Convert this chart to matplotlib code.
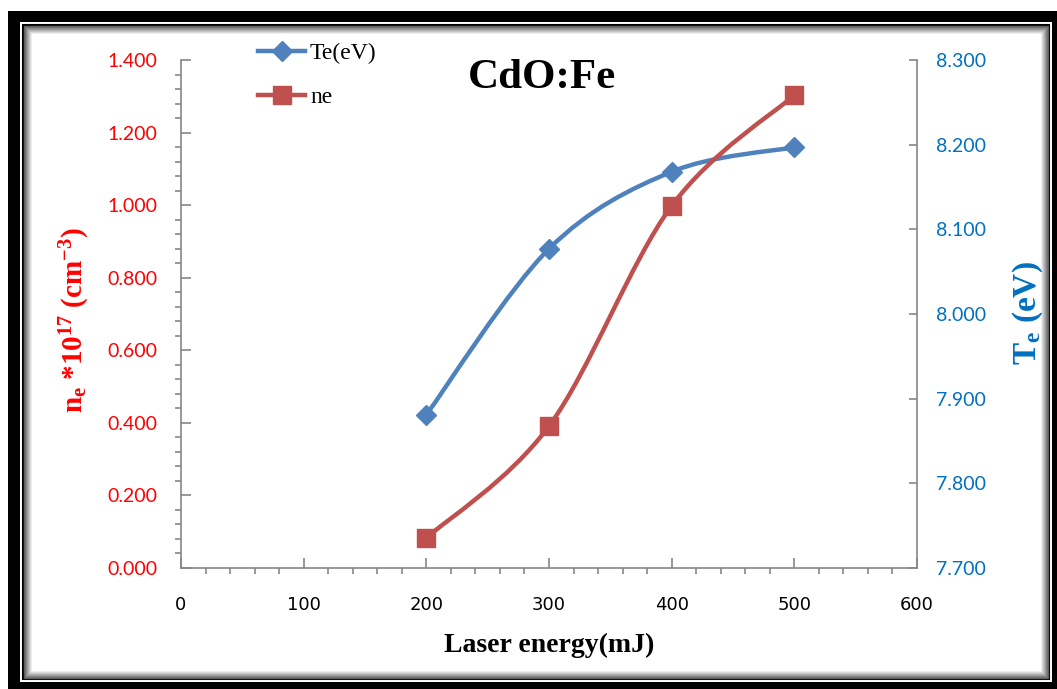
import numpy as np
import matplotlib
matplotlib.use("Agg")
import matplotlib.pyplot as plt
from matplotlib.path import Path
from matplotlib.patches import PathPatch, Rectangle
from matplotlib.lines import Line2D
from matplotlib.ticker import MultipleLocator, FormatStrFormatter

# values
energy = [200, 300, 400, 500]
ne = [0.083, 0.391, 0.998, 1.303]
te = [7.881, 8.077, 8.168, 8.197]

red = '#C0504D'
blue = '#4F81BD'
gray = '#868686'


def smooth_path(xs, ys):
    # excel-like smoothed line: cubic bezier through the points
    pts = np.column_stack([xs, ys]).astype(float)
    n = len(pts)
    verts = [pts[0]]
    codes = [Path.MOVETO]
    for i in range(n - 1):
        p0 = pts[i - 1] if i > 0 else pts[i]
        p1 = pts[i]
        p2 = pts[i + 1]
        p3 = pts[i + 2] if i + 2 < n else pts[i + 1]
        c1 = p1 + (p2 - p0) / 6.0
        c2 = p2 - (p3 - p1) / 6.0
        verts += [c1, c2, p2]
        codes += [Path.CURVE4] * 3
    return Path(verts, codes)


W, H = 1057, 689
fig = plt.figure(figsize=(W / 100, H / 100), dpi=100)

# frame with shadow, in pixel coords
bg = fig.add_axes([0, 0, 1, 1], zorder=0)
bg.set_xlim(0, W)
bg.set_ylim(H, 0)
bg.axis('off')
bg.add_patch(Rectangle((8, 11), W, H, fc='black', ec='none'))
bg.add_patch(Rectangle((20, 22), 1032, 660, fc='white', ec='none'))
bg.add_patch(Rectangle((23, 25), 1026, 654, fc='none', ec='black', lw=1.5))
for i in range(9):
    g = 0.35 + 0.65 * i / 8
    bg.add_patch(Rectangle((24 + i, 26 + i), 1024 - 2 * i, 652 - 2 * i,
                           fc='none', ec=(g, g, g), lw=1))
bg.add_patch(Rectangle((33, 35), 1006, 634, fc='white', ec='none'))

bg.text(542, 78, 'CdO:Fe', ha='center', va='center', fontsize=31,
        fontweight='bold', family='Liberation Serif')

# main axes
left, right, top, bottom = 181, 917, 60, 568
pos = [left / W, 1 - bottom / H, (right - left) / W, (bottom - top) / H]
ax = fig.add_axes(pos, zorder=3)
ax2 = ax.twinx()
ax2.set_zorder(2)
ax.patch.set_visible(False)
ax2.patch.set_visible(False)

ax.set_xlim(0, 600)
ax.set_ylim(0, 1.4)
ax2.set_ylim(7.7, 8.3)

ax.add_patch(PathPatch(smooth_path(energy, ne), fc='none', ec=red, lw=3.2,
                       capstyle='round'))
ax.plot(energy, ne, ls='none', marker='s', ms=13, color=red)
ax2.add_patch(PathPatch(smooth_path(energy, te), fc='none', ec=blue, lw=3.2,
                        capstyle='round'))
ax2.plot(energy, te, ls='none', marker='D', ms=10, color=blue)

for a in (ax, ax2):
    for s in a.spines.values():
        s.set_color(gray)
        s.set_linewidth(1.2)
    a.spines['top'].set_visible(False)
ax.spines['right'].set_visible(False)
ax2.spines['left'].set_visible(False)
ax2.spines['bottom'].set_visible(False)

tick_font = ['Lato', 'DejaVu Sans']
ax.xaxis.set_major_locator(MultipleLocator(100))
ax.xaxis.set_minor_locator(MultipleLocator(20))
ax.yaxis.set_major_locator(MultipleLocator(0.2))
ax.yaxis.set_minor_locator(MultipleLocator(0.04))
ax.yaxis.set_major_formatter(FormatStrFormatter('%.3f'))
ax2.yaxis.set_major_locator(MultipleLocator(0.1))
ax2.yaxis.set_major_formatter(FormatStrFormatter('%.3f'))

ax.tick_params(axis='both', which='major', direction='in', length=7,
               width=1.2, color=gray)
ax.tick_params(axis='both', which='minor', direction='out', length=4,
               width=1.2, color=gray)
ax.tick_params(axis='y', which='major', pad=17, labelcolor='#FF0000',
               labelsize=14)
ax.tick_params(axis='x', which='major', pad=20, labelsize=13)
ax2.tick_params(axis='y', which='major', direction='in', length=6, width=1.2,
                color=gray, pad=14, labelcolor='#0070C0', labelsize=14)
for lab in ax.get_yticklabels() + ax2.get_yticklabels():
    lab.set_family(tick_font)
for lab in ax.get_xticklabels():
    lab.set_family(['Liberation Sans Narrow', 'DejaVu Sans'])

ax.set_xlabel('Laser energy(mJ)', fontsize=20, fontweight='bold',
              family='Liberation Serif', labelpad=14)

fig.text(75 / W, 1 - 320 / H, r'n$\mathregular{_e}$ *10$\mathregular{^{17}}$ (cm$\mathregular{^{-3}}$)',
         rotation=90, ha='center', va='center', color='#FF0000', fontsize=21,
         family='Liberation Serif', fontweight='bold')
fig.text(1028 / W, 1 - 313 / H, r'T$\mathregular{_e}$ (eV)',
         rotation=90, ha='center', va='center', color='#0070C0', fontsize=24,
         family='Liberation Serif', fontweight='bold')

handles = [Line2D([], [], color=blue, lw=3.2, marker='D', ms=10),
           Line2D([], [], color=red, lw=3.2, marker='s', ms=13)]
ax.legend(handles, ['Te(eV)', 'ne'], loc='upper left',
          bbox_to_anchor=(258 / W, 1 - 43 / H), bbox_transform=fig.transFigure,
          frameon=False, prop={'family': 'Liberation Serif', 'size': 17},
          handlelength=2.0, handletextpad=0.2, labelspacing=0.95,
          borderaxespad=0, borderpad=0)

fig.savefig('out.png', dpi=100)
